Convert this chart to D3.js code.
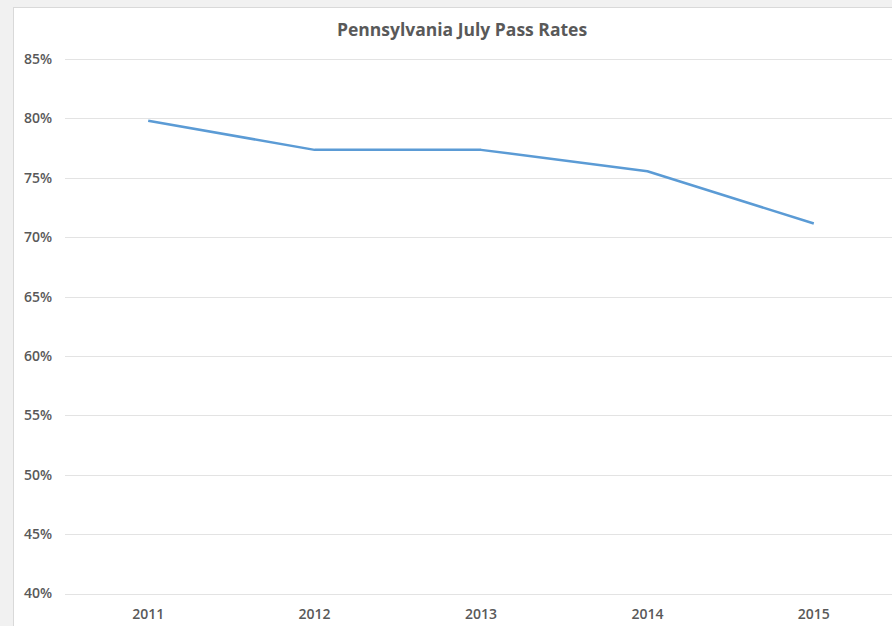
<!DOCTYPE html>
<html>
<head>
<meta charset="utf-8">
<script src="https://cdn.jsdelivr.net/npm/d3@7"></script>
<style>
body{margin:0;background:#f1f1f1;}
svg{display:block;}
text{font-family:"Open Sans","Liberation Sans",sans-serif;}
</style>
</head>
<body>
<svg id="chart"></svg>
<script>
var years = ["2011","2012","2013","2014","2015"]
var passRates = [79.8, 77.35, 77.35, 75.55, 71.15]
var yTicks = [40,45,50,55,60,65,70,75,80,85]

var screen = {width:892, height:626}
var svg = d3.select("#chart")
  .attr("width", screen.width)
  .attr("height", screen.height)

// chart panel
svg.append("rect")
  .attr("x", 13.5).attr("y", 7.5)
  .attr("width", 900).attr("height", 700)
  .attr("fill", "#ffffff")
  .attr("stroke", "#d9d9d9")

var xScale = d3.scaleBand()
  .domain(years)
  .range([65, 897])

var yScale = d3.scaleLinear()
  .domain([40,85])
  .range([593.5, 59])

var grid = svg.append("g")
grid.selectAll("line")
  .data(yTicks)
  .enter()
  .append("line")
  .attr("x1", 65).attr("x2", 892)
  .attr("y1", function(d){return Math.round(yScale(d))+0.5})
  .attr("y2", function(d){return Math.round(yScale(d))+0.5})
  .attr("stroke", "#e3e3e3")

var yAxis = d3.axisLeft(yScale)
  .tickValues(yTicks)
  .tickSize(0)
  .tickPadding(0)
  .tickFormat(function(d){return d + "%"})

svg.append("g")
  .attr("transform", "translate(52,0)")
  .call(yAxis)
  .call(function(g){g.select(".domain").remove()})
  .selectAll("text")
  .attr("fill", "#595959")
  .style("font-size", "14px")
  .style("font-weight", "600")
  .style("font-family", "'Open Sans',sans-serif")

var xAxis = d3.axisBottom(xScale)
  .tickSize(0)
  .tickPadding(0)

svg.append("g")
  .attr("transform", "translate(0,609)")
  .call(xAxis)
  .call(function(g){g.select(".domain").remove()})
  .selectAll("text")
  .attr("fill", "#595959")
  .style("font-size", "14px")
  .style("font-weight", "600")
  .style("font-family", "'Open Sans',sans-serif")

var line = d3.line()
  .x(function(d,i){return xScale(years[i]) + xScale.bandwidth()/2})
  .y(function(d){return yScale(d)})

svg.append("path")
  .datum(passRates)
  .attr("d", line)
  .attr("fill", "none")
  .attr("stroke", "#5b9bd5")
  .attr("stroke-width", 2.5)
  .attr("stroke-linejoin", "round")

svg.append("text")
  .attr("x", 462)
  .attr("y", 36)
  .attr("text-anchor", "middle")
  .attr("fill", "#595959")
  .style("font-size", "17.5px")
  .style("font-weight", "700")
  .text("Pennsylvania July Pass Rates")
</script>
</body>
</html>
